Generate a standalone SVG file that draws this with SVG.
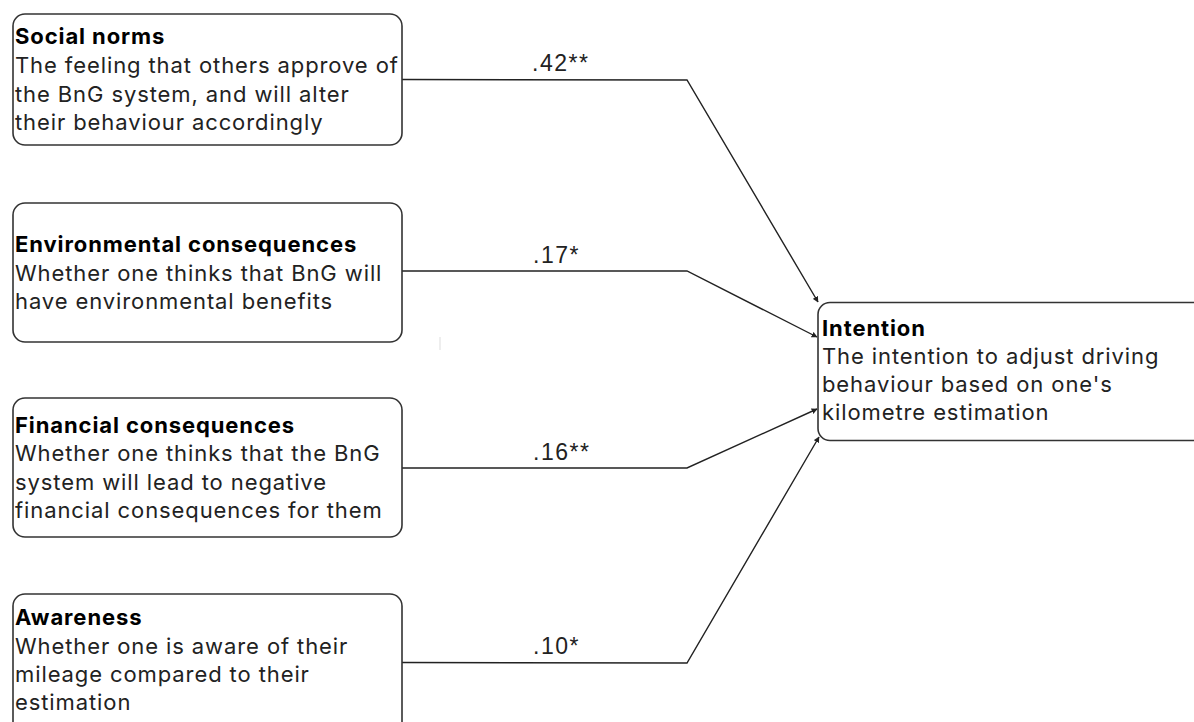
<svg xmlns="http://www.w3.org/2000/svg" width="1194" height="722" viewBox="0 0 1194 722">
<style>
.box{fill:#fff;stroke:#333;stroke-width:1.6}
.t{font-family:Inter,"Liberation Sans",sans-serif;font-size:22px;letter-spacing:0.9px;fill:#000;font-weight:700}
.b{font-family:Inter,"Liberation Sans",sans-serif;font-size:22px;letter-spacing:0.9px;fill:#222}
.lbl{font-family:"Liberation Sans",Arial,sans-serif;font-size:23px;letter-spacing:1.5px;fill:#222}
.c{fill:none;stroke:#222;stroke-width:1.4}
</style>
<defs>
<marker id="ah" viewBox="0 0 10 10" refX="9" refY="5" markerWidth="6" markerHeight="6" orient="auto" markerUnits="userSpaceOnUse">
<path d="M0,0 L10,5 L0,10 z" fill="#222"/>
</marker>
</defs>
<rect width="1194" height="722" fill="#fff"/>
<g id="connectors">
<polyline class="c" points="402,79.5 687,80 818,302" marker-end="url(#ah)"/>
<polyline class="c" points="402,271 687,271 817,337" marker-end="url(#ah)"/>
<polyline class="c" points="402,468 687,468 817,409" marker-end="url(#ah)"/>
<polyline class="c" points="402,662.5 687,663 819,437" marker-end="url(#ah)"/>
<text class="lbl" x="532" y="71">.42**</text>
<text class="lbl" x="533" y="263">.17*</text>
<text class="lbl" x="533" y="460">.16**</text>
<text class="lbl" x="533" y="654">.10*</text>
</g>
<g id="social-norms">
<rect class="box" x="13" y="14" width="389" height="131" rx="12"/>
<text class="t" x="15" y="44">Social norms</text>
<text class="b" x="15" y="73">The feeling that others approve of</text>
<text class="b" x="15" y="101.5">the BnG system, and will alter</text>
<text class="b" x="15" y="129.5">their behaviour accordingly</text>
</g>
<g id="environmental-consequences">
<rect class="box" x="13" y="203" width="389" height="139" rx="12"/>
<text class="t" x="15" y="252">Environmental consequences</text>
<text class="b" x="15" y="280.5">Whether one thinks that BnG will</text>
<text class="b" x="15" y="308.5">have environmental benefits</text>
</g>
<g id="financial-consequences">
<rect class="box" x="13" y="398" width="389" height="139" rx="12"/>
<text class="t" x="15" y="433">Financial consequences</text>
<text class="b" x="15" y="461">Whether one thinks that the BnG</text>
<text class="b" x="15" y="489.5">system will lead to negative</text>
<text class="b" x="15" y="517.5">financial consequences for them</text>
</g>
<g id="awareness">
<rect class="box" x="13" y="594" width="389" height="140" rx="12"/>
<text class="t" x="15" y="625">Awareness</text>
<text class="b" x="15" y="654">Whether one is aware of their</text>
<text class="b" x="15" y="682">mileage compared to their</text>
<text class="b" x="15" y="710">estimation</text>
</g>
<g id="intention">
<rect class="box" x="818" y="302.5" width="400" height="138" rx="12"/>
<text class="t" x="822" y="336">Intention</text>
<text class="b" x="822" y="364">The intention to adjust driving</text>
<text class="b" x="822" y="392">behaviour based on one's</text>
<text class="b" x="822" y="420">kilometre estimation</text>
</g>
<line x1="440" y1="337" x2="440" y2="350" stroke="#ddd" stroke-width="1"/>
</svg>
